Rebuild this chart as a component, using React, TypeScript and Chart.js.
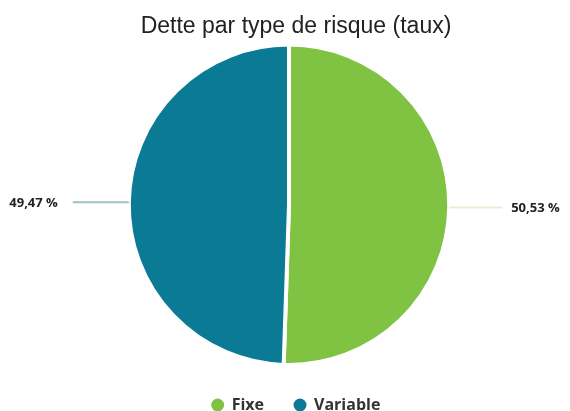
import React, { useEffect, useRef } from "react";
import { Chart, registerables } from "chart.js";

Chart.register(...registerables);

const categories = ["Fixe", "Variable"];
const values = [50.53, 49.47];
const valueLabels = ["50,53 %", "49,47 %"];
const colors = ["#80c242", "#0b7a94"];
const lineColors = ["#e6f1d2", "#9cc0c8"];

const outsideLabels = {
  id: "outsideLabels",
  afterDatasetsDraw(chart: any) {
    const ctx = chart.ctx;
    const meta = chart.getDatasetMeta(0);
    ctx.save();
    meta.data.forEach((arc: any, i: number) => {
      const mid = (arc.startAngle + arc.endAngle) / 2;
      const r = arc.outerRadius;
      const cx = arc.x;
      const cy = arc.y;
      const x0 = cx + Math.cos(mid) * r;
      const y0 = cy + Math.sin(mid) * r;
      const right = Math.cos(mid) >= 0;
      const x1 = x0 + (right ? 53 : -56);
      ctx.strokeStyle = lineColors[i];
      ctx.lineWidth = 2;
      ctx.beginPath();
      ctx.moveTo(x0, y0);
      ctx.lineTo(x1, y0);
      ctx.stroke();
      ctx.fillStyle = "#222";
      ctx.font = "bold 13px 'Open Sans'";
      ctx.textBaseline = "middle";
      ctx.textAlign = right ? "left" : "right";
      ctx.fillText(valueLabels[i], x1 + (right ? 9 : -15), y0 + 1);
    });
    ctx.restore();
  },
};

const layoutTweaks = {
  id: "layoutTweaks",
  afterInit(chart: any) {
    const legend = chart.legend;
    if (!legend) return;
    const orig = legend.fit;
    legend.fit = function () {
      orig.call(this);
      this.height = 44;
    };
  },
  afterLayout(chart: any) {
    const shift = 7;
    [chart.legend, chart.titleBlock].forEach((b: any) => {
      if (b) {
        b.left += shift;
        b.right += shift;
      }
    });
  },
};

export default function App() {
  const ref = useRef<HTMLCanvasElement>(null);
  useEffect(() => {
    document.body.style.margin = "0";
    const chart = new Chart(ref.current!, {
      type: "pie",
      data: {
        labels: categories,
        datasets: [
          {
            data: values,
            backgroundColor: colors,
            borderColor: "#ffffff",
            borderWidth: 4,
          },
        ],
      },
      options: {
        animation: false,
        responsive: false,
        layout: { padding: { top: 0, bottom: 0, left: 8, right: 0 } },
        plugins: {
          title: {
            display: true,
            text: "Dette par type de risque (taux)",
            color: "#222",
            font: { family: "'Liberation Sans', Arial", size: 23, weight: "normal" },
            padding: { top: 13, bottom: 2 },
          },
          legend: {
            position: "bottom",
            labels: {
              usePointStyle: true,
              pointStyle: "circle",
              boxWidth: 12,
              boxHeight: 12,
              padding: 30,
              color: "#333",
              font: { family: "'Open Sans'", size: 16, weight: "bold" },
            },
          },
          tooltip: { enabled: false },
        },
      },
      plugins: [outsideLabels, layoutTweaks],
    });
    return () => chart.destroy();
  }, []);
  return <canvas ref={ref} width={570} height={411} style={{ display: "block" }} />;
}
